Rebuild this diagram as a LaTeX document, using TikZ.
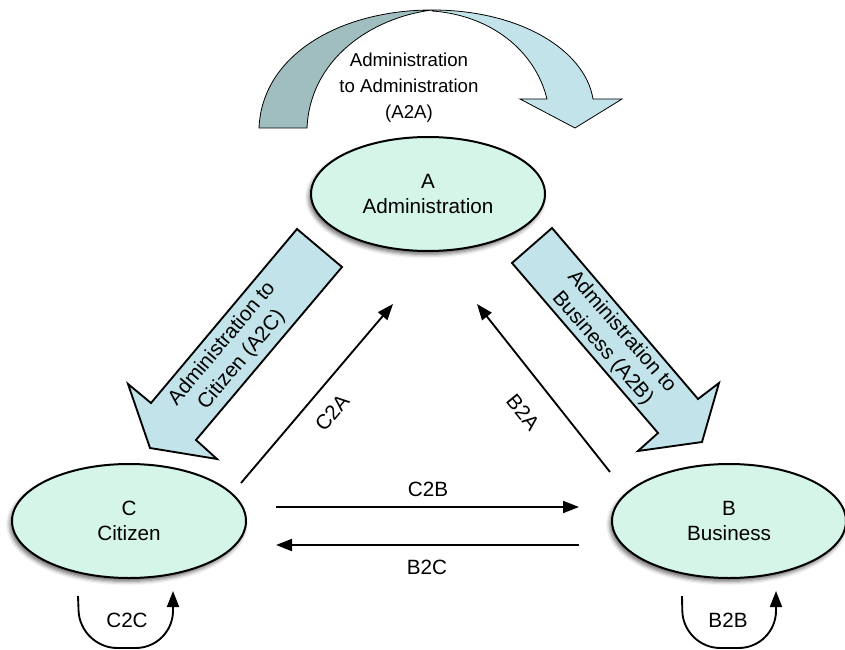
\documentclass[tikz,border=0pt]{standalone}
\usepackage{fontspec}
\setmainfont{Liberation Sans}
\usetikzlibrary{arrows.meta,shapes.geometric,shadows.blur}

\definecolor{mint}{RGB}{212,245,232}
\definecolor{pale}{RGB}{193,227,233}
\definecolor{slate}{RGB}{160,190,192}

\tikzset{every picture/.style={line width=0.75pt}}
\tikzset{
  party/.style={ellipse, draw, line width=1.5pt, fill=mint, minimum width=175.5pt, minimum height=85.5pt,
    inner sep=0pt, align=center, font=\fontsize{15.5}{19}\selectfont,
    blur shadow={shadow xshift=-1.5pt, shadow yshift=-2.5pt, shadow blur radius=3pt, shadow opacity=60}},
  flow/.style={line width=1.4pt, -{Triangle[length=12pt,width=9pt]}},
  blockarrow/.style={draw, line width=1.4pt, fill=pale, line join=miter},
  lbl/.style={font=\fontsize{15.5}{19}\selectfont, align=center, inner sep=0pt}
}

\begin{document}
\begin{tikzpicture}[x=0.75pt,y=0.75pt,yscale=-1,xscale=1]
\useasboundingbox (0,0) rectangle (845,649);

%Shape: Curved Arrow, back half
\draw [fill=slate, line width=0.6pt] (259,128) .. controls (262,55) and (340,10) .. (432,10) .. controls (370,18) and (310,60) .. (307,128) -- cycle ;
%Shape: Curved Arrow, front half
\draw [fill=pale, line width=0.6pt] (432,10) .. controls (520,10) and (585,50) .. (593,99) -- (622,99) -- (575,128) -- (520,99) -- (547,99) .. controls (535,50) and (490,15) .. (432,11) -- cycle ;

% Text Node
\node [lbl, font=\fontsize{14}{19.5}\selectfont] (a2a) at (409,88) {Administration\\to Administration\\(A2A)};

%Shape: Ellipse
\node [party] (A) at (428,194) {A\\Administration};
%Shape: Ellipse
\node [party] (C) at (129,521) {C\\Citizen};
%Shape: Ellipse
\node [party] (B) at (729,521) {B\\Business};

%Shape: Block Arrow
\draw [blockarrow] (297,229) -- (342,267) -- (196,440) -- (217,459) -- (150,448) -- (128,384) -- (151,403) -- cycle ;
\node [lbl, rotate=50] (a2c) at (232,352) {Administration to\\Citizen (A2C)};
%Shape: Block Arrow
\draw [blockarrow] (552,228) -- (512,263) -- (658,433) -- (638,451) -- (702,442) -- (719,383) -- (698,399) -- cycle ;
\node [lbl, rotate=-49] (a2b) at (612,340) {Administration to\\Business (A2B)};

%Straight Lines
\draw [flow] ([shift={(-6,-38)}]C.east) -- ([shift={(-35,52)}]A.south) ;
\node [lbl, rotate=50] (c2a) at (332,413) {C2A};
%Straight Lines
\draw [flow] ([shift={(-1,-49)}]B.west) -- ([shift={(49,52)}]A.south) ;
\node [lbl, rotate=-51] (b2a) at (523,412) {B2A};
%Straight Lines
\draw [flow] ([shift={(29,-14)}]C.east) -- ([shift={(-32,-14)}]B.west) ;
\node [lbl] (c2b) at (428,489) {C2B};
%Straight Lines
\draw [flow] ([shift={(-32,24)}]B.west) -- ([shift={(29,24)}]C.east) ;
\node [lbl] (b2c) at (427,567) {B2C};

%Curve Lines
\draw [flow, rounded corners=28] ([shift={(-51,17)}]C.south) -- ++(2,52) -- ++(93,0) -- ([shift={(44,12)}]C.south) ;
\node [lbl] (c2c) at (127,620) {C2C};
%Curve Lines
\draw [flow, rounded corners=28] ([shift={(-47,17)}]B.south) -- ++(1,52) -- ++(93,0) -- ([shift={(47,12)}]B.south) ;
\node [lbl] (b2b) at (728,620) {B2B};

\end{tikzpicture}
\end{document}
